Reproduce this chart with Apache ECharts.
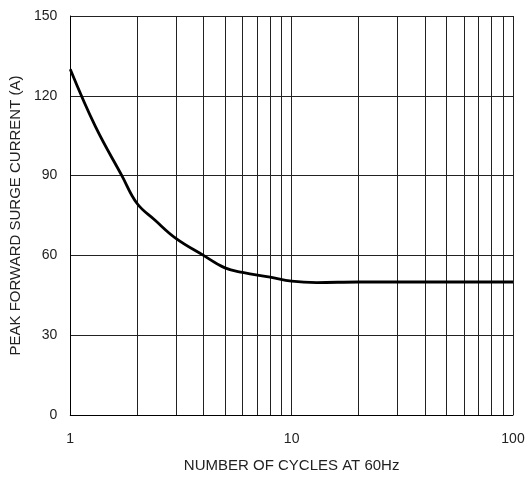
<!DOCTYPE html>
<html>
<head>
<meta charset="utf-8">
<script src="https://cdn.jsdelivr.net/npm/echarts@6/dist/echarts.min.js"></script>
<style>
  html, body { margin: 0; padding: 0; background: #fff; }
  #chart { width: 528px; height: 478px; }
</style>
</head>
<body>
<div id="chart"></div>
<script>
// Peak forward surge current vs. number of cycles at 60 Hz
const cycles = [1, 1.3, 1.71, 2, 2.41, 3, 4, 5, 6, 8, 10, 13, 20, 100];
const surgeCurrent = [130, 108.4, 90, 79.6, 73.3, 66.4, 60, 55.3, 53.6, 51.8, 50.3, 49.8, 50, 50];

// Intermediate log-decade grid lines
const minorGrid = [2, 3, 4, 5, 6, 7, 8, 9, 20, 30, 40, 50, 60, 70, 80, 90];
const yTicks = [0, 30, 60, 90, 120, 150];

const FONT = '"Liberation Sans", Arial, sans-serif';
const chart = echarts.init(document.getElementById('chart'), null, { renderer: 'canvas' });

chart.setOption({
  animation: false,
  backgroundColor: '#fff',
  grid: { left: 68, right: 15, top: 16, bottom: 63 },
  xAxis: {
    type: 'log',
    logBase: 10,
    min: 1,
    max: 100,
    name: 'NUMBER OF CYCLES AT 60Hz',
    nameLocation: 'middle',
    nameGap: 43,
    nameTextStyle: { fontFamily: FONT, fontSize: 15, color: '#222' },
    axisLine: { lineStyle: { color: '#000', width: 1 } },
    axisTick: { show: false },
    axisLabel: { fontFamily: FONT, fontSize: 14, color: '#222', margin: 17 },
    splitLine: { show: true, lineStyle: { color: '#222', width: 1 } }
  },
  yAxis: {
    type: 'value',
    min: yTicks[0],
    max: yTicks[yTicks.length - 1],
    interval: 30,
    name: 'PEAK FORWARD SURGE CURRENT (A)',
    nameLocation: 'middle',
    nameGap: 47,
    nameTextStyle: { fontFamily: FONT, fontSize: 15, color: '#222' },
    axisLine: { show: true, lineStyle: { color: '#000', width: 1 } },
    axisTick: { show: false },
    axisLabel: { fontFamily: FONT, fontSize: 14, color: '#222', margin: 13 },
    splitLine: { show: true, lineStyle: { color: '#222', width: 1 } }
  },
  series: [
    {
      type: 'line',
      data: cycles.map((c, i) => [c, surgeCurrent[i]]),
      smooth: 0.4,
      showSymbol: false,
      lineStyle: { color: '#000', width: 2.8 },
      z: 5,
      markLine: {
        silent: true,
        symbol: ['none', 'none'],
        label: { show: false },
        lineStyle: { color: '#222', width: 1, type: 'solid' },
        data: minorGrid.map(v => ({ xAxis: v }))
      }
    }
  ]
});
</script>
</body>
</html>
